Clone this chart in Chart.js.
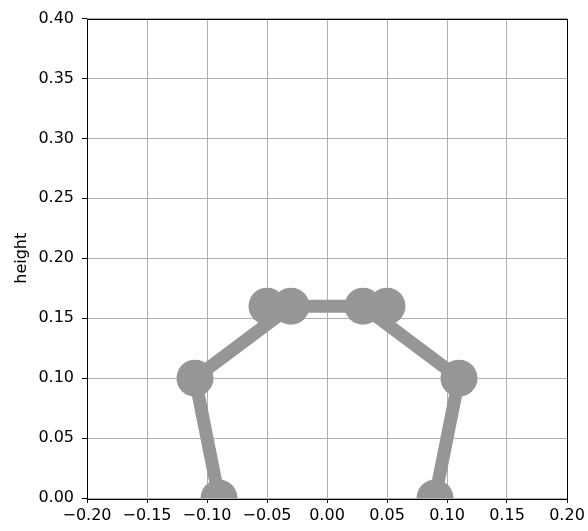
<!DOCTYPE html>
<html>
<head>
<meta charset="utf-8">
<script src="https://cdn.jsdelivr.net/npm/chart.js@4.4.0/dist/chart.umd.min.js"></script>
<style>
  html, body { margin: 0; padding: 0; background: #fff; }
  #wrap { width: 588px; height: 531px; }
</style>
</head>
<body>
<div id="wrap"><canvas id="myChart" width="588" height="531"></canvas></div>
<script>
// joint positions of the stick figure, in drawing order
const xs = [-0.09, -0.11, -0.03, -0.05, 0.05, 0.03, 0.11, 0.09];
const heights = [0.00, 0.10, 0.16, 0.16, 0.16, 0.16, 0.10, 0.00];
const xTicks = [-0.20, -0.15, -0.10, -0.05, 0.00, 0.05, 0.10, 0.15, 0.20];
const yTicks = [0.00, 0.05, 0.10, 0.15, 0.20, 0.25, 0.30, 0.35, 0.40];

const gris = '#969696';

// formato de las etiquetas con signo menos tipográfico
const fmt = v => {
  if (Math.abs(v) < 1e-9) v = 0;
  return v.toFixed(2).replace('-', '\u2212');
};

// marco negro alrededor del área del gráfico
const marco = {
  id: 'marco',
  afterDraw(chart) {
    const { ctx, chartArea: a } = chart;
    ctx.save();
    ctx.strokeStyle = '#000';
    ctx.lineWidth = 1;
    ctx.strokeRect(Math.round(a.left) + 0.5, Math.round(a.top) + 0.5,
      Math.round(a.right - a.left), Math.round(a.bottom - a.top));
    ctx.restore();
  }
};

const ctx = document.getElementById('myChart');
new Chart(ctx, {
  type: 'line',
  data: {
    datasets: [{
      data: xs.map((x, i) => ({ x: x, y: heights[i] })),
      borderColor: gris,
      backgroundColor: gris,
      borderWidth: 13,
      pointRadius: 18.5,
      pointHoverRadius: 18.5,
      pointBorderWidth: 0,
      pointBackgroundColor: gris,
      tension: 0,
      clip: 0
    }]
  },
  plugins: [marco],
  options: {
    responsive: false,
    animation: false,
    events: [],
    layout: { padding: { top: 17, right: 21, left: 0, bottom: 0 } },
    plugins: { legend: { display: false }, tooltip: { enabled: false } },
    scales: {
      x: {
        type: 'linear',
        min: -0.2,
        max: 0.2,
        afterBuildTicks: s => { s.ticks = xTicks.map(v => ({ value: v })); },
        afterFit: s => { s.height = 33; },
        grid: { color: '#b0b0b0', lineWidth: 1, tickColor: '#000', tickLength: 5 },
        border: { display: false },
        ticks: {
          color: '#000',
          padding: 3,
          maxRotation: 0,
          autoSkip: false,
          font: { family: 'DejaVu Sans', size: 16 },
          callback: v => fmt(v)
        }
      },
      y: {
        type: 'linear',
        min: 0,
        max: 0.4,
        afterBuildTicks: s => { s.ticks = yTicks.map(v => ({ value: v })); },
        afterFit: s => { s.width = 87; },
        grid: { color: '#b0b0b0', lineWidth: 1, tickColor: '#000', tickLength: 5 },
        border: { display: false },
        title: {
          display: true,
          text: 'height',
          color: '#000',
          padding: { top: 12, bottom: 0 },
          font: { family: 'DejaVu Sans', size: 16 }
        },
        ticks: {
          color: '#000',
          padding: 8,
          autoSkip: false,
          font: { family: 'DejaVu Sans', size: 16 },
          callback: v => fmt(v)
        }
      }
    }
  }
});
</script>
</body>
</html>
